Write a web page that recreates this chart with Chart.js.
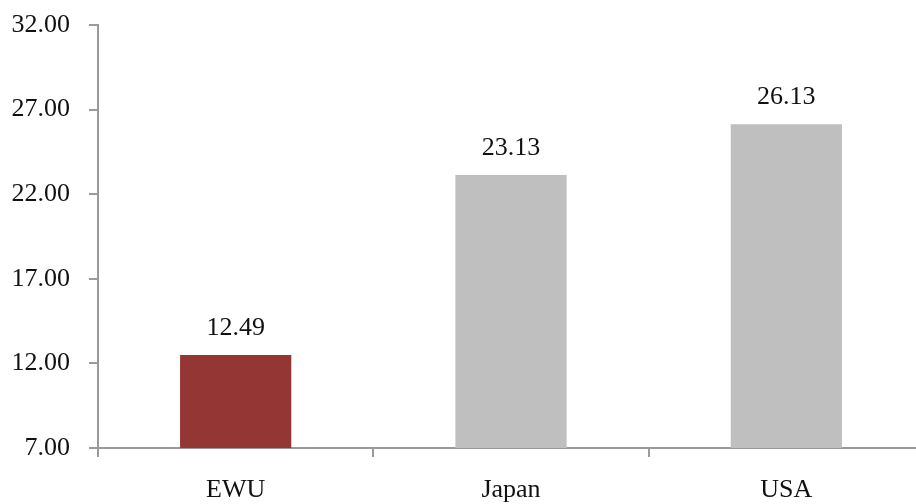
<!DOCTYPE html>
<html>
<head>
<meta charset="utf-8">
<script src="https://cdn.jsdelivr.net/npm/chart.js@4/dist/chart.umd.min.js"></script>
<style>
  html, body { margin: 0; padding: 0; background: #fff; overflow: hidden; }
  #wrap { width: 924px; height: 504px; position: relative; }
</style>
</head>
<body>
<div id="wrap"><canvas id="mainChart"></canvas></div>
<script>
const regions = ['EWU', 'Japan', 'USA'];
const values = [12.49, 23.13, 26.13];
const barColors = ['#943634', '#bfbfbf', '#bfbfbf'];
const yMin = 7, yMax = 32, yStep = 5;

const FONT = '"Liberation Serif", "DejaVu Serif", serif';
const AXIS = '#9a9a9a';

// value labels above each bar
const valueLabels = {
    id: 'valueLabels',
    afterDatasetsDraw(chart) {
        const ctx = chart.ctx;
        const meta = chart.getDatasetMeta(0);
        ctx.save();
        ctx.font = '26px ' + FONT;
        ctx.fillStyle = '#111';
        ctx.textAlign = 'center';
        ctx.textBaseline = 'alphabetic';
        meta.data.forEach((bar, i) => {
            ctx.fillText(values[i].toFixed(2), bar.x, bar.y - 20);
        });
        ctx.restore();
    }
};

new Chart(document.getElementById('mainChart').getContext('2d'), {
    type: 'bar',
    data: {
        labels: regions,
        datasets: [{
            data: values,
            backgroundColor: barColors,
            borderWidth: 0,
            barPercentage: 0.404,
            categoryPercentage: 1.0
        }]
    },
    options: {
        responsive: true,
        maintainAspectRatio: false,
        animation: false,
        layout: { padding: { top: 25, right: 0, left: 0, bottom: 0 } },
        plugins: {
            legend: { display: false },
            tooltip: { enabled: false }
        },
        scales: {
            x: {
                grid: {
                    offset: true,
                    drawOnChartArea: false,
                    drawTicks: true,
                    tickLength: 9,
                    color: AXIS,
                    lineWidth: 2
                },
                border: { display: true, color: AXIS, width: 2 },
                ticks: {
                    color: '#111',
                    padding: 18,
                    font: { family: FONT, size: 26 }
                },
                afterFit(scale) { scale.height = 56; }
            },
            y: {
                min: yMin,
                max: yMax,
                grid: {
                    drawOnChartArea: false,
                    drawTicks: true,
                    tickLength: 9,
                    color: AXIS,
                    lineWidth: 2
                },
                border: { display: true, color: AXIS, width: 2 },
                ticks: {
                    stepSize: yStep,
                    color: '#111',
                    padding: 19,
                    font: { family: FONT, size: 26 },
                    callback: v => Number(v).toFixed(2)
                },
                afterFit(scale) {
                    scale.width = 98;
                    scale.paddingTop = 0;
                }
            }
        }
    },
    plugins: [valueLabels]
});
</script>
</body>
</html>
